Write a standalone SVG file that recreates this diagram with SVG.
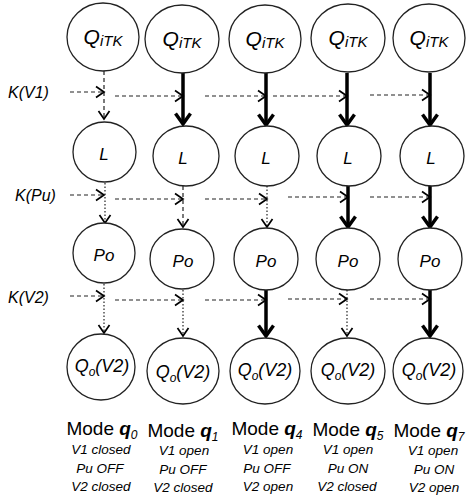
<svg xmlns="http://www.w3.org/2000/svg" width="468" height="501" viewBox="0 0 468 501">
<style>
text{font-family:"Liberation Sans",Arial,sans-serif;fill:#000}
.n{fill:#fff;stroke:#222;stroke-width:1.3}
.it{font-style:italic}
.q{font-size:21px;font-style:italic}
.qs{font-size:15px;font-style:italic}
.lbl{font-size:17px;font-style:italic;text-anchor:middle}
.k{font-size:16px;font-style:italic}
.mode{font-size:19px;text-anchor:middle}
.sub{font-size:13.5px;font-style:italic;text-anchor:middle}
.dash{stroke:#222;stroke-width:1.2;stroke-dasharray:4 3;fill:none;marker-end:url(#thin)}
.dot{stroke:#222;stroke-width:1.2;stroke-dasharray:1.5 2;fill:none;marker-end:url(#thin)}
.thick{stroke:#000;stroke-width:3.5;fill:none;marker-end:url(#thk)}
</style>
<defs>
<marker id="thin" markerUnits="userSpaceOnUse" markerWidth="12" markerHeight="14" viewBox="0 0 12 14" refX="9" refY="7" orient="auto">
<path d="M1,1.5 L9,7 L1,12.5" fill="none" stroke="#000" stroke-width="1.7"/>
</marker>
<marker id="thk" markerUnits="userSpaceOnUse" markerWidth="14" markerHeight="18" viewBox="0 0 14 18" refX="12" refY="9" orient="auto">
<path d="M1.5,1.5 L12,9 L1.5,16.5" fill="none" stroke="#000" stroke-width="3.5"/>
</marker>
</defs>

<g id="connectors">
<!-- column 0 -->
<line class="dash" x1="104" y1="71" x2="104" y2="119"/>
<line class="dot" x1="105" y1="183" x2="105" y2="223"/>
<line class="dot" x1="104" y1="284" x2="104" y2="333"/>
<!-- column 1 -->
<line class="thick" x1="183" y1="73" x2="183" y2="124"/>
<line class="dash" x1="183" y1="186" x2="183" y2="227"/>
<line class="dot" x1="183" y1="290" x2="183" y2="336"/>
<!-- column 2 -->
<line class="thick" x1="266" y1="73" x2="266" y2="125"/>
<line class="dot" x1="267" y1="186" x2="267" y2="227"/>
<line class="thick" x1="266" y1="290" x2="266" y2="336"/>
<!-- column 3 -->
<line class="thick" x1="347" y1="73" x2="347" y2="125"/>
<line class="thick" x1="348" y1="186" x2="348" y2="227"/>
<line class="dot" x1="347" y1="290" x2="347" y2="336"/>
<!-- column 4 -->
<line class="thick" x1="430" y1="73" x2="430" y2="125"/>
<line class="thick" x1="430" y1="186" x2="430" y2="227"/>
<line class="thick" x1="430" y1="290" x2="430" y2="336"/>
<!-- K(V1) -->
<line class="dash" x1="70" y1="92" x2="104" y2="92"/>
<line class="dash" x1="115" y1="96" x2="183" y2="96"/>
<line class="dash" x1="205" y1="96" x2="266" y2="96"/>
<line class="dash" x1="273" y1="96" x2="347" y2="96"/>
<line class="dash" x1="370" y1="95" x2="430" y2="95"/>
<!-- K(Pu) -->
<line class="dash" x1="70" y1="195" x2="104" y2="195"/>
<line class="dash" x1="115" y1="199" x2="183" y2="199"/>
<line class="dash" x1="205" y1="199" x2="267" y2="199"/>
<line class="dash" x1="288" y1="197" x2="348" y2="197"/>
<line class="dash" x1="370" y1="197" x2="430" y2="197"/>
<!-- K(V2) -->
<line class="dash" x1="70" y1="296" x2="104" y2="296"/>
<line class="dash" x1="115" y1="300" x2="183" y2="300"/>
<line class="dash" x1="205" y1="300" x2="266" y2="300"/>
<line class="dash" x1="288" y1="299" x2="347" y2="299"/>
<line class="dash" x1="370" y1="299" x2="430" y2="299"/>
</g>

<g id="labels-k">
<text class="k" x="8" y="98">K(V1)</text>
<text class="k" x="15" y="201">K(Pu)</text>
<text class="k" x="8" y="303">K(V2)</text>
</g>

<!-- QiTK row -->
<g id="q0-QiTK"><ellipse class="n" cx="103" cy="37" rx="36" ry="34"/><text x="103" y="44" text-anchor="middle"><tspan class="q">Q</tspan><tspan class="qs" dy="2">iTK</tspan></text></g>
<g id="q1-QiTK"><ellipse class="n" cx="182" cy="39" rx="37" ry="34"/><text x="182" y="46" text-anchor="middle"><tspan class="q">Q</tspan><tspan class="qs" dy="2">iTK</tspan></text></g>
<g id="q4-QiTK"><ellipse class="n" cx="265" cy="39" rx="36" ry="34"/><text x="265" y="46" text-anchor="middle"><tspan class="q">Q</tspan><tspan class="qs" dy="2">iTK</tspan></text></g>
<g id="q5-QiTK"><ellipse class="n" cx="348" cy="38" rx="37" ry="34"/><text x="348" y="45" text-anchor="middle"><tspan class="q">Q</tspan><tspan class="qs" dy="2">iTK</tspan></text></g>
<g id="q7-QiTK"><ellipse class="n" cx="429" cy="38" rx="36" ry="34"/><text x="429" y="45" text-anchor="middle"><tspan class="q">Q</tspan><tspan class="qs" dy="2">iTK</tspan></text></g>

<!-- L row -->
<g id="q0-L"><ellipse class="n" cx="104.5" cy="152" rx="31.5" ry="30"/><text class="lbl" x="104" y="160" font-size="18">L</text></g>
<g id="q1-L"><ellipse class="n" cx="186" cy="156" rx="33" ry="30"/><text class="lbl" x="183" y="164" font-size="18">L</text></g>
<g id="q4-L"><ellipse class="n" cx="267" cy="156" rx="32" ry="30"/><text class="lbl" x="266" y="164" font-size="18">L</text></g>
<g id="q5-L"><ellipse class="n" cx="349" cy="156" rx="32" ry="30"/><text class="lbl" x="348" y="164" font-size="18">L</text></g>
<g id="q7-L"><ellipse class="n" cx="432" cy="156" rx="32" ry="30"/><text class="lbl" x="431" y="164" font-size="18">L</text></g>

<!-- Po row -->
<g id="q0-Po"><ellipse class="n" cx="104" cy="253" rx="31" ry="30"/><text class="lbl" x="104" y="261" font-size="19">Po</text></g>
<g id="q1-Po"><ellipse class="n" cx="182" cy="259" rx="32" ry="30"/><text class="lbl" x="183" y="267" font-size="19">Po</text></g>
<g id="q4-Po"><ellipse class="n" cx="266" cy="259" rx="32" ry="31"/><text class="lbl" x="266" y="267" font-size="19">Po</text></g>
<g id="q5-Po"><ellipse class="n" cx="348" cy="259" rx="32" ry="31"/><text class="lbl" x="348" y="267" font-size="19">Po</text></g>
<g id="q7-Po"><ellipse class="n" cx="430" cy="259" rx="32" ry="31"/><text class="lbl" x="430" y="267" font-size="19">Po</text></g>

<!-- Qo row -->
<g id="q0-Qo"><ellipse class="n" cx="101" cy="367" rx="34" ry="33"/><text class="it" x="102" y="372" text-anchor="middle" font-size="18">Q<tspan font-size="12" dy="4">o</tspan><tspan dy="-4">(V2)</tspan></text></g>
<g id="q1-Qo"><ellipse class="n" cx="183" cy="371" rx="36" ry="33"/><text class="it" x="183" y="378" text-anchor="middle" font-size="18">Q<tspan font-size="12" dy="4">o</tspan><tspan dy="-4">(V2)</tspan></text></g>
<g id="q4-Qo"><ellipse class="n" cx="265" cy="371" rx="35" ry="33"/><text class="it" x="265" y="376" text-anchor="middle" font-size="18">Q<tspan font-size="12" dy="4">o</tspan><tspan dy="-4">(V2)</tspan></text></g>
<g id="q5-Qo"><ellipse class="n" cx="348" cy="371" rx="37" ry="33"/><text class="it" x="348" y="376" text-anchor="middle" font-size="18">Q<tspan font-size="12" dy="4">o</tspan><tspan dy="-4">(V2)</tspan></text></g>
<g id="q7-Qo"><ellipse class="n" cx="428" cy="371" rx="35" ry="33"/><text class="it" x="429" y="376" text-anchor="middle" font-size="18">Q<tspan font-size="12" dy="4">o</tspan><tspan dy="-4">(V2)</tspan></text></g>

<!-- Mode captions -->
<g id="mode-q0">
<text class="mode" x="102" y="435">Mode <tspan font-style="italic" font-weight="bold">q</tspan><tspan font-style="italic" font-size="12" dy="4">0</tspan></text>
<text class="sub" x="101" y="454">V1 closed</text>
<text class="sub" x="100" y="473">Pu OFF</text>
<text class="sub" x="101" y="491">V2 closed</text>
</g>
<g id="mode-q1">
<text class="mode" x="183" y="437">Mode <tspan font-style="italic" font-weight="bold">q</tspan><tspan font-style="italic" font-size="12" dy="4">1</tspan></text>
<text class="sub" x="184" y="455">V1 open</text>
<text class="sub" x="183" y="474">Pu OFF</text>
<text class="sub" x="183" y="492">V2 closed</text>
</g>
<g id="mode-q4">
<text class="mode" x="267" y="435">Mode <tspan font-style="italic" font-weight="bold">q</tspan><tspan font-style="italic" font-size="12" dy="4">4</tspan></text>
<text class="sub" x="268" y="454">V1 open</text>
<text class="sub" x="267" y="473">Pu OFF</text>
<text class="sub" x="268" y="491">V2 open</text>
</g>
<g id="mode-q5">
<text class="mode" x="348" y="436">Mode <tspan font-style="italic" font-weight="bold">q</tspan><tspan font-style="italic" font-size="12" dy="4">5</tspan></text>
<text class="sub" x="348" y="454">V1 open</text>
<text class="sub" x="348" y="473">Pu ON</text>
<text class="sub" x="347" y="491">V2 closed</text>
</g>
<g id="mode-q7">
<text class="mode" x="429" y="437">Mode <tspan font-style="italic" font-weight="bold">q</tspan><tspan font-style="italic" font-size="12" dy="4">7</tspan></text>
<text class="sub" x="433" y="455">V1 open</text>
<text class="sub" x="434" y="474">Pu ON</text>
<text class="sub" x="434" y="492">V2 open</text>
</g>
</svg>
